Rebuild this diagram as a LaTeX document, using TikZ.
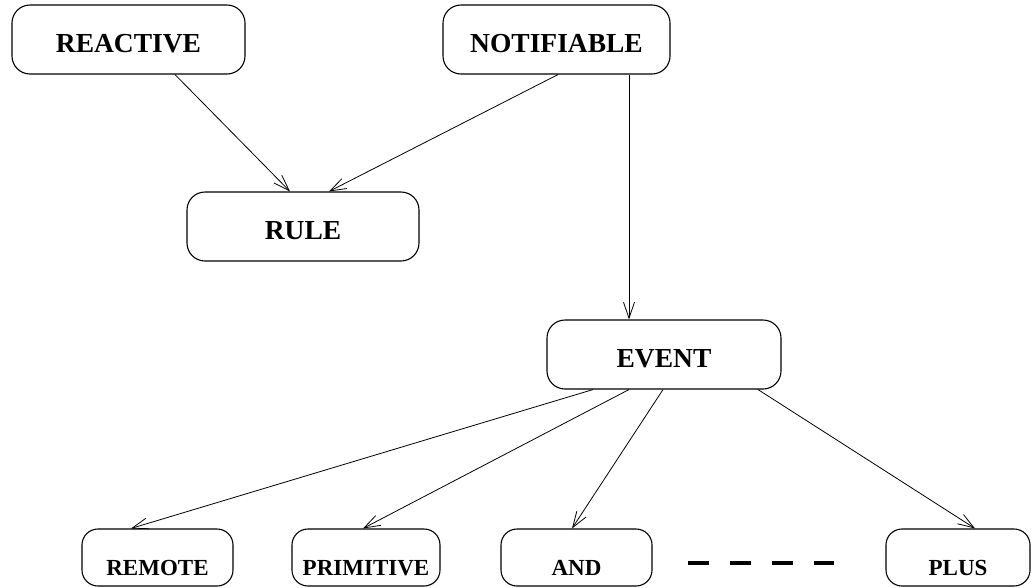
\documentclass[tikz,border=0pt]{standalone}
\usepackage{fontspec}
\setmainfont{Liberation Serif}
\usetikzlibrary{arrows.meta}
\begin{document}
\begin{tikzpicture}[x=1pt,y=-1pt,
  box/.style={draw, rounded corners=18pt, line width=1.1pt, inner sep=0pt,
    font=\fontsize{27.5}{30}\selectfont\bfseries,
    text height=47pt, text depth=22pt},
  leaf/.style={draw, rounded corners=16pt, line width=1.1pt, inner sep=0pt,
    font=\fontsize{23}{26}\selectfont\bfseries,
    text height=46pt, text depth=11pt},
  link/.style={line width=0.8pt, -{Straight Barb[length=16pt,width=11pt,line width=0.8pt]}},
  gap/.style={line width=4.5pt, dash pattern=on 21pt off 21pt}]
\useasboundingbox (0,0) rectangle (1031,587);
\clip (0,0) rectangle (1031,587);

% upper classes
\node[box, minimum width=233pt] (reactive)   at (128.5,39.5) {REACTIVE};
\node[box, minimum width=227pt] (notifiable) at (556.5,39.5) {NOTIFIABLE};
\node[box, minimum width=232pt] (rule)       at (303,226.5)  {RULE};
\node[box, minimum width=234pt] (event)      at (664,354.5)  {EVENT};

% event subclasses
\node[leaf, minimum width=151pt] (remote)    at (157.5,557.5) {REMOTE};
\node[leaf, minimum width=148pt] (primitive) at (366,557.5)   {PRIMITIVE};
\node[leaf, minimum width=151pt] (and)       at (576.5,557.5) {AND};
\node[leaf, minimum width=144pt] (plus)      at (958,557.5)   {PLUS};

% elided subclasses between AND and PLUS
\coordinate (gapstart) at (688,563);
\coordinate (gapend)   at (834,563);
\draw[gap] (gapstart) -- (gapend);

% inheritance links
\draw[link] ([xshift=46.5pt]reactive.south)  -- ([xshift=-13pt]rule.north);
\draw[link] ([xshift=1.5pt]notifiable.south) -- ([xshift=26pt]rule.north);
\draw[link] ([xshift=72.5pt]notifiable.south) -- ([xshift=-35pt]event.north);
\draw[link] ([xshift=-71pt]event.south) -- ([xshift=-26.5pt]remote.north);
\draw[link] ([xshift=-35pt]event.south) -- ([xshift=-3pt]primitive.north);
\draw[link] ([xshift=-1pt]event.south)  -- ([xshift=-4.5pt]and.north);
\draw[link] ([xshift=94pt]event.south)  -- ([xshift=17pt]plus.north);
\end{tikzpicture}
\end{document}
